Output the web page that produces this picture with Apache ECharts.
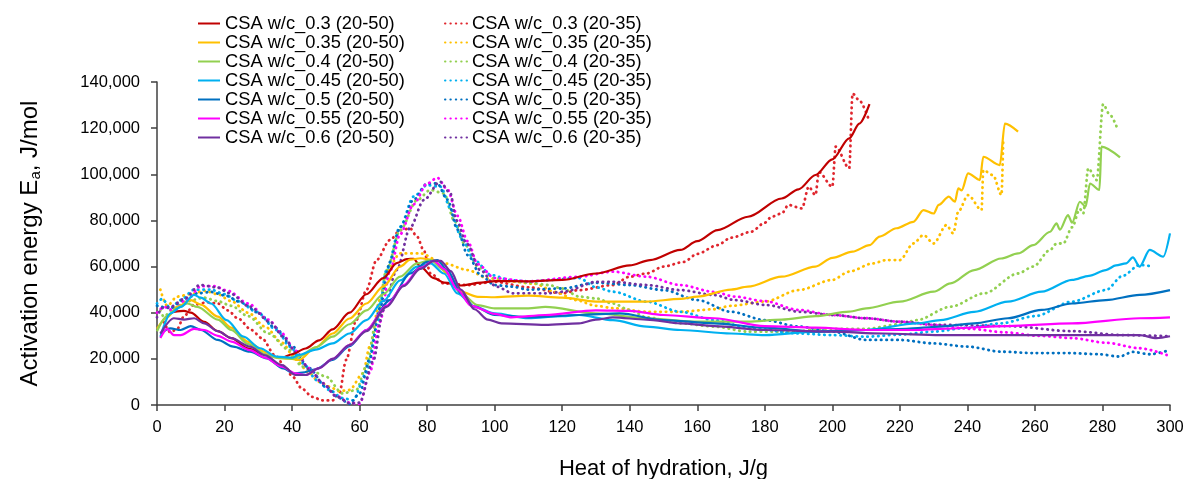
<!DOCTYPE html>
<html><head><meta charset="utf-8">
<script src="https://cdn.jsdelivr.net/npm/echarts@6/dist/echarts.min.js"></script>
<style>html,body{margin:0;padding:0;background:#fff}#c{width:1189px;height:479px}</style>
</head><body><div id="c"></div>
<script>
const seriesNames = ['CSA w/c_0.3 (20-50)','CSA w/c_0.35 (20-50)','CSA w/c_0.4 (20-50)','CSA w/c_0.45 (20-50)','CSA w/c_0.5 (20-50)','CSA w/c_0.55 (20-50)','CSA w/c_0.6 (20-50)',
 'CSA w/c_0.3 (20-35)','CSA w/c_0.35 (20-35)','CSA w/c_0.4 (20-35)','CSA w/c_0.45 (20-35)','CSA w/c_0.5 (20-35)','CSA w/c_0.55 (20-35)','CSA w/c_0.6 (20-35)'];

const wc03_2050 = [[5,40400],[8,40800],[10,40000],[14,36000],[18,32000],[22,29000],[27,24500],[32,21800],[37,20500],[40,22000],[44,24500],[48,28000],[52,32800],[57,40000],[62,48000],[67,55000],[71,61500],[74,63200],[76,63400],[78,60000],[82,55000],[85,53000],[90,51800],[96,53000],[100,53700],[110,53600],[120,54200],[130,57000],[140,60500],[146,62800],[155,67200],[160,71000],[166,75800],[175,81600],[185,89500],[190,93500],[195,99700],[200,106500],[205,115600],[208,122000],[211,130400]];
const wc035_2050 = [[0,33000],[3,38000],[6,42500],[10,45500],[13,43500],[18,38300],[22,33500],[27,27400],[32,23000],[35,20700],[39,20200],[42,19500],[47,25000],[52,31000],[57,37500],[62,44000],[67,51300],[72,60000],[75,63000],[78,63600],[82,62800],[86,57000],[90,49100],[95,46900],[100,46700],[110,47400],[120,46500],[130,44800],[145,44800],[155,46000],[160,47000],[170,50000],[175,51300],[185,55600],[195,60000],[200,63800],[206,66500],[211,69300],[214,73000],[219,76600],[224,79400],[227,84500],[230,83000],[231.5,86700],[234.5,90300],[236.3,88100],[237.3,93900],[238.3,93000],[240.2,100400],[243.7,97500],[244.7,107600],[249.6,104000],[251.1,122000],[255,118500]];
const wc04_2050 = [[0,32000],[3,38500],[6,42000],[9,44000],[12,42500],[18,37000],[22,32500],[27,26400],[32,22000],[36,20300],[40,20000],[42,21000],[47,25000],[52,29600],[57,35000],[62,41000],[67,48000],[72,55600],[77,61400],[81,62800],[85,58500],[90,48400],[95,43300],[100,41900],[110,41900],[115,42500],[130,39700],[145,37600],[160,36100],[175,36100],[185,37000],[195,38500],[205,40500],[210,41900],[220,44800],[230,49100],[235,52700],[242,58500],[250,63500],[255,65700],[259.5,69300],[264.5,75100],[266.4,78700],[267.4,76000],[269.8,82300],[271,79000],[273.3,88100],[275,86000],[276.3,96000],[279.1,93200],[279.7,112000],[285.2,107300]];
const wc045_2050 = [[1,29600],[4,39700],[7,42500],[11,47700],[13,46500],[16,44000],[20.6,36800],[25.6,29600],[30.5,24600],[35.4,21000],[40,20500],[42,21700],[47,24000],[52,26700],[57,31000],[62,36800],[67,45000],[72,54000],[77,60000],[81,61400],[85,57000],[89,48400],[94,42600],[100,39700],[110,37600],[120,38500],[125,39000],[135,36800],[145,34000],[155,32500],[170,31000],[180,30300],[195,31800],[210,32500],[225,35400],[232,36800],[242,40400],[252,44800],[262,49100],[271,54200],[276,56000],[281,58500],[284,60500],[287,61400],[289,64000],[291,60000],[294,67200],[298,64300],[300,74400]];
const wc05_2050 = [[1,31000],[4,33200],[7,32500],[10,34200],[13,32500],[18,28200],[22.6,25300],[27.5,23100],[32.5,20200],[37.4,15900],[40.4,13700],[43,14000],[47,15500],[52,19500],[57,25500],[62,32500],[69,45500],[75,57000],[80,62000],[83,62800],[86,58500],[90,48400],[94,42600],[100,39000],[110,38000],[125,39000],[137,39700],[150,36800],[165,35400],[180,33500],[195,31800],[210,32500],[222,33000],[232,34000],[242,35400],[252,37600],[262,41200],[271,44000],[281,45500],[291,47700],[300,49800]];
const wc055_2050 = [[1,29000],[3,33000],[5,30300],[7,30300],[11,33000],[14,32500],[18,30000],[22,27500],[27.5,23800],[32,20500],[37,16600],[41,13700],[44,13000],[48,16000],[52,20000],[57,26000],[62,32500],[68,43000],[73,52000],[78,59500],[82,62500],[85,59000],[89,50000],[93,43000],[100,39500],[105,38000],[115,39000],[130,41000],[140,40800],[150,39000],[165,37600],[180,34200],[195,33500],[210,32500],[225,32500],[232,33000],[252,34200],[271,35400],[291,37600],[300,38000]];
const wc06_2050 = [[1,31000],[5,37600],[8,37000],[11,37600],[14,35400],[18,32000],[22,29000],[27.5,25300],[32,21500],[37,17300],[41,13000],[44,13000],[48,16000],[52,20000],[57,26000],[62,32000],[68,42500],[73,51500],[78,59000],[82,62500],[84,62500],[87,58000],[90,50000],[94,41500],[98,37000],[102,35400],[115,34700],[125,35400],[130,37000],[135,38000],[145,37000],[155,35400],[165,34200],[180,32500],[200,31800],[215,31000],[232,30300],[252,30300],[271,30300],[291,30300],[296,29000],[300,29800]];

const wc03_2035 = [[2,36000],[4,31500],[6,33000],[8,38500],[11,43500],[15,44500],[18,44000],[21,41000],[24,37500],[28,32500],[31,29000],[35,21500],[38,16500],[40,12500],[43,7000],[46,3500],[49,2000],[52,2000],[54,5000],[56,19500],[59,36800],[62,49800],[65,62800],[69,71500],[72,75800],[75,76500],[77,73000],[79,67000],[81,57000],[85,52700],[92,52000],[100,53400],[110,51000],[120,48400],[125,49800],[135,52000],[140,55600],[145,57000],[150,60000],[156,62000],[160,65500],[166,69300],[170,72500],[176,75100],[180,79000],[182,81600],[185,83000],[187,86700],[191,85200],[193,94600],[195,91000],[196,101000],[200,94600],[201,112000],[205,102600],[206,135000],[208,132000],[211,122800]];
const wc035_2035 = [[1,50000],[3,43000],[6,47000],[10,48000],[14,49500],[18,48000],[22,45000],[27,40000],[32,34000],[37,27000],[41,20000],[45,14000],[48,10000],[51,8000],[54,6000],[57,6500],[61,13700],[63,25300],[66,45500],[68,58000],[72,65700],[78,65700],[85,61400],[92,58500],[98,54900],[105,53500],[112,52500],[118,49000],[124,45500],[130,43000],[135,42000],[145,40400],[155,40400],[165,41500],[170,43000],[180,44800],[190,49800],[200,54200],[205,57800],[212,61400],[216,62800],[220,62800],[224,70000],[227,73700],[230,70000],[233.8,78000],[235.8,74400],[237.3,83800],[240.2,91000],[244.2,84500],[244.7,101800],[247.6,99600],[250.1,91000],[250.6,114000]];
const wc04_2035 = [[1,41000],[2,38300],[5,42000],[9,45000],[14,46500],[18,45000],[22,43000],[27,38500],[33,31000],[39,24000],[43,16600],[47,14000],[50,12300],[55,5000],[59,6500],[62,16600],[65,36800],[68,58500],[72,75800],[77,88800],[81,93200],[85,91700],[88,80000],[91,70000],[95,60000],[100,55000],[110,53000],[116,52000],[120,50500],[125,47000],[130,46200],[135,44000],[140,41200],[145,38000],[155,35400],[165,34000],[175,31800],[190,31800],[195,33000],[210,33000],[220,35000],[225,36800],[235,42600],[245,48400],[255,57000],[259.5,60000],[264.5,67200],[266.4,70000],[268.4,70000],[271,77000],[273.3,85000],[274.3,83000],[275.8,102600],[278.3,97500],[280.2,130400],[282.1,126000],[284.2,120600]];
const wc045_2035 = [[0,44000],[1.5,46000],[4,42000],[7,45500],[11,50000],[16,50000],[20,48000],[24,45000],[29.5,40400],[35.4,32500],[39.4,25300],[43.3,18000],[47.3,10800],[51,6500],[55,3000],[58,2000],[62,13700],[65,33000],[68,58500],[72,77300],[76,90300],[80,95300],[84,94600],[87,85000],[90,72900],[94,62800],[99,56300],[105,54000],[110,53600],[125,55000],[130,51000],[135,49100],[145,44800],[155,40400],[165,36800],[175,33500],[190,31000],[200,30300],[210,29600],[220,30500],[230,31800],[240,33500],[250,35400],[260,38500],[271,44800],[281,49800],[286,56000],[291,60700],[295,60000]];
const wc05_2035 = [[0,43000],[4,42000],[8,45500],[12,48400],[16,49000],[20,47500],[25,44500],[30,40000],[35,33500],[40,25500],[45,16000],[50,8000],[54,3000],[57,500],[60,5000],[63,20000],[66,42000],[69,62000],[72,77000],[76,89000],[80,96000],[83,96000],[86,89000],[89,76000],[92,65000],[96,56000],[100,52000],[105,51300],[110,50000],[120,50500],[130,53000],[140,52000],[150,49800],[160,45500],[170,40400],[180,36800],[190,34000],[200,31800],[210,28200],[220,28200],[230,26700],[240,25300],[250,23100],[260,22500],[270,22500],[279,22000],[285,21000],[289,23000],[294,22000],[300,23800]];
const wc055_2035 = [[0,40000],[2,42500],[5,41000],[9,46000],[13,51500],[17,51500],[21,49500],[27,44000],[33,37000],[37,31000],[41,23500],[45,16000],[49,9500],[53,4000],[57,1000],[60,500],[63,14000],[66,36000],[69,58000],[72,74000],[76,87000],[80,96000],[83,98500],[86,93500],[89,82000],[92,71000],[95,61000],[100,55000],[110,53600],[125,55600],[135,57800],[145,55600],[155,52000],[165,49000],[171,47000],[180,45000],[190,41200],[200,39000],[210,37600],[220,36100],[230,34700],[241,33000],[251,31500],[261,30000],[271,29000],[281,27000],[291,24600],[299,21700]];
const wc06_2035 = [[0,38000],[1.5,42000],[4,42500],[8,46000],[12.7,52000],[17.7,51000],[21.6,48400],[27.5,42600],[33.5,36000],[37.4,29600],[41.3,22500],[45.3,15200],[49.2,9400],[53.2,3600],[57.2,700],[60,1000],[64,19000],[67,41000],[71,58500],[75,77000],[79,88800],[83.8,96800],[86.8,92000],[88.7,80000],[91.7,70000],[95.7,58500],[100.5,51300],[105.5,48400],[115.4,48400],[120.4,49100],[130.2,53400],[135.1,53400],[145,52000],[155,49800],[165,47700],[171,45500],[180.5,43300],[190.4,40400],[200.3,39000],[210,37600],[220,36100],[232,34700],[252,34200],[271,32000],[286,30300],[300,29800]];

const solidData = [wc03_2050, wc035_2050, wc04_2050, wc045_2050, wc05_2050, wc055_2050, wc06_2050];
const dottedData = [wc03_2035, wc035_2035, wc04_2035, wc045_2035, wc05_2035, wc055_2035, wc06_2035];
const solidColors = ['#C00000','#FFC000','#92D050','#00B0F0','#0070C0','#FF00FF','#7030A0'];
const dottedColors = ['#E0262E','#FFC000','#92D050','#00B0F0','#0070C0','#FF00FF','#7030A0'];

const FONT = "'Liberation Sans', Arial, sans-serif";
const series = [];
solidData.forEach((d, i) => series.push({
  name: seriesNames[i], type: 'line', data: d, showSymbol: false, symbol: 'none',
  smooth: 0.3, smoothMonotone: 'x', color: solidColors[i],
  lineStyle: { width: 2.2, color: solidColors[i] }, z: 3
}));
dottedData.forEach((d, i) => series.push({
  name: seriesNames[7 + i], type: 'line', data: d, showSymbol: false, symbol: 'none',
  smooth: 0.3, smoothMonotone: 'x', color: dottedColors[i],
  lineStyle: { width: 2.8, color: dottedColors[i], type: [0.4, 5], cap: 'round' }, z: 2
}));

const legendCommon = {
  orient: 'vertical', top: 9, itemWidth: 22, itemHeight: 10, itemGap: 0,
  itemStyle: { opacity: 0 },
  textStyle: { fontFamily: FONT, fontSize: 18.3, color: '#000', lineHeight: 19 }
};

const chart = echarts.init(document.getElementById('c'), null, { renderer: 'canvas' });
chart.setOption({
  animation: false,
  backgroundColor: '#fff',
  grid: { left: 157, right: 19, top: 82, bottom: 74, containLabel: false, outerBoundsMode: 'none' },
  legend: [
    Object.assign({}, legendCommon, { left: 192, data: seriesNames.slice(0, 7) }),
    Object.assign({}, legendCommon, { left: 439, data: seriesNames.slice(7) })
  ],
  xAxis: {
    type: 'value', min: 0, max: 300, interval: 20,
    name: 'Heat of hydration, J/g', nameLocation: 'middle', nameGap: 53,
    nameTextStyle: { fontFamily: FONT, fontSize: 22, color: '#000' },
    axisLine: { lineStyle: { color: '#404040', width: 1.5 } },
    axisTick: { show: true, length: 6, inside: false, lineStyle: { color: '#404040', width: 1.5 } },
    axisLabel: { fontFamily: FONT, fontSize: 16.5, color: '#000', margin: 14 },
    splitLine: { show: false }
  },
  yAxis: {
    type: 'value', min: 0, max: 140000, interval: 20000,
    name: 'Activation energy E{sub|a}, J/mol', nameLocation: 'middle', nameGap: 114, nameRotate: 90,
    nameTextStyle: { fontFamily: FONT, fontSize: 24, color: '#000',
      rich: { sub: { fontFamily: FONT, fontSize: 15, color: '#000', verticalAlign: 'bottom', padding: [10, 0, 0, 0] } } },
    axisLine: { show: true, lineStyle: { color: '#404040', width: 1.5 } },
    axisTick: { show: true, length: 6, lineStyle: { color: '#404040', width: 1.5 } },
    axisLabel: { fontFamily: FONT, fontSize: 16.5, color: '#000', margin: 17,
      formatter: v => v.toLocaleString('en-US') },
    splitLine: { show: false }
  },
  series: series
});
</script>
</body></html>
